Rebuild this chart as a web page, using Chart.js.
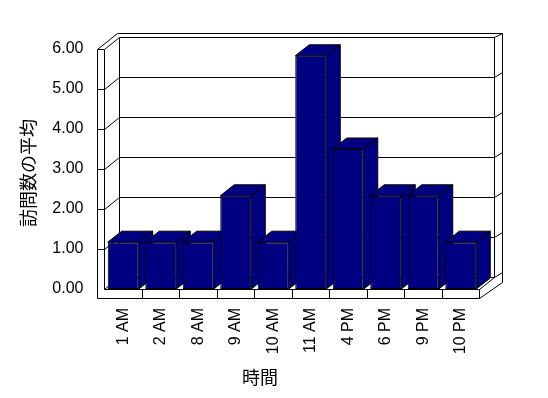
<!DOCTYPE html>
<html>
<head>
<meta charset="utf-8">
<script src="https://cdn.jsdelivr.net/npm/chart.js"></script>
<style>
html, body { margin: 0; padding: 0; background: #fff; }
</style>
</head>
<body>
<canvas id="chart" width="548" height="398"></canvas>
<script>
var hours = ["1 AM", "2 AM", "8 AM", "9 AM", "10 AM", "11 AM", "4 PM", "6 PM", "9 PM", "10 PM"];
var avgVisits = [1.17, 1.17, 1.17, 2.33, 1.17, 5.83, 3.5, 2.33, 2.33, 1.17];
var yMax = 6;
var xTitle = "時間";
var yTitle = "訪問数の平均";

var navy = "#000080";
// oblique depth of the walls and of the bars
var wallDx = 15, wallDy = -12;
var barDx = 14, barDy = -11;
var wallThick = 7.5, floorThick = 9;

function px(v) { return Math.floor(v) + 0.5; }

function path(ctx, pts, close) {
  ctx.beginPath();
  ctx.moveTo(pts[0][0], pts[0][1]);
  for (var i = 1; i < pts.length; i++) ctx.lineTo(pts[i][0], pts[i][1]);
  if (close) ctx.closePath();
}

function seg(ctx, x1, y1, x2, y2) {
  ctx.beginPath();
  ctx.moveTo(px(x1), px(y1));
  ctx.lineTo(px(x2), px(y2));
  ctx.stroke();
}

var box3d = {
  id: "box3d",
  beforeDatasetsDraw: function (chart) {
    var ctx = chart.ctx, a = chart.chartArea;
    var xs = chart.scales.x, ys = chart.scales.y;
    var L = a.left, R = a.right, T = ys.getPixelForValue(yMax), B = ys.getPixelForValue(0);
    var oL = L - wallThick, oR = R + wallDx + wallThick;
    var bL = L + wallDx, bR = R + wallDx, bT = T + wallDy, bB = B + wallDy;

    ctx.save();
    ctx.strokeStyle = "#000";
    ctx.lineWidth = 1;
    ctx.fillStyle = "#fff";

    // outer outline
    path(ctx, [[px(oL), px(T)], [px(oL + 20), px(bT - 4)], [px(oR), px(bT - 4)],
      [px(oR), px(bB + 5)], [px(R), px(B + floorThick)], [px(oL), px(B + floorThick)]], true);
    ctx.fill();
    ctx.stroke();

    // left wall front face and top
    seg(ctx, oL, T, L, T);
    seg(ctx, L, T, L, B);
    seg(ctx, L, T, bL, bT);
    // back wall
    path(ctx, [[px(bL), px(bT)], [px(bR), px(bT)], [px(bR), px(bB)], [px(bL), px(bB)]], true);
    ctx.stroke();
    seg(ctx, bR, bT, oR, bT - 4);
    seg(ctx, bR, bB, oR, bB - 5);
    // floor
    seg(ctx, L, B, R, B);
    seg(ctx, L, B, bL, bB);
    seg(ctx, R, B, bR, bB);
    seg(ctx, R, B, R, B + floorThick);

    // gridlines
    for (var v = 1; v < yMax; v++) {
      var yv = ys.getPixelForValue(v);
      seg(ctx, oL, yv, L, yv);
      seg(ctx, L, yv, bL, yv + wallDy);
      seg(ctx, bL, yv + wallDy, bR, yv + wallDy);
      seg(ctx, bR, yv + wallDy, oR, yv + wallDy - 5);
    }
    // category ticks on floor front
    for (var i = 1; i < hours.length; i++) {
      var xb = xs.getPixelForValue(i - 0.5);
      seg(ctx, xb, B, xb, B + floorThick);
    }

    // bar tops and sides, left to right
    var meta = chart.getDatasetMeta(0);
    ctx.fillStyle = navy;
    meta.data.forEach(function (el) {
      var p = el.getProps(["x", "y", "base", "width"], true);
      var l = p.x - p.width / 2, r = p.x + p.width / 2;
      path(ctx, [[l, p.y], [l + barDx, p.y + barDy], [r + barDx, p.y + barDy], [r, p.y]], true);
      ctx.fill(); ctx.stroke();
      path(ctx, [[r, p.y], [r + barDx, p.y + barDy], [r + barDx, p.base + barDy], [r, p.base]], true);
      ctx.fill(); ctx.stroke();
    });
    ctx.restore();
  },
  afterDraw: function (chart) {
    var ctx = chart.ctx;
    ctx.save();
    ctx.fillStyle = "#000";
    ctx.font = "18px 'Noto Sans CJK JP'";
    ctx.textAlign = "center";
    ctx.textBaseline = "middle";
    ctx.fillText(xTitle, 260, 377);
    ctx.translate(28, 173);
    ctx.rotate(-Math.PI / 2);
    ctx.fillText(yTitle, 0, 0);
    ctx.restore();
  }
};

Chart.defaults.font.family = "'Liberation Sans', Arial, sans-serif";
Chart.defaults.font.size = 16;
Chart.defaults.color = "#000";

new Chart(document.getElementById("chart"), {
  type: "bar",
  data: {
    labels: hours,
    datasets: [{
      label: yTitle,
      data: avgVisits,
      backgroundColor: navy,
      borderColor: "#000",
      borderWidth: 1,
      borderSkipped: false,
      categoryPercentage: 1,
      barPercentage: 0.827
    }]
  },
  options: {
    responsive: false,
    animation: false,
    layout: { padding: { left: 0, top: 49, right: 68.5, bottom: 0 } },
    plugins: { legend: { display: false }, tooltip: { enabled: false } },
    scales: {
      x: {
        grid: { display: false, drawTicks: false },
        border: { display: false },
        ticks: { autoSkip: false, minRotation: 90, maxRotation: 90, padding: 19 },
        afterFit: function (s) { s.height = 109; }
      },
      y: {
        min: 0,
        max: yMax,
        grid: { display: false, drawTicks: false },
        border: { display: false },
        ticks: {
          stepSize: 1,
          padding: 21,
          callback: function (v) { return v.toFixed(2); }
        },
        afterFit: function (s) { s.width = 104.5; }
      }
    }
  },
  plugins: [box3d]
});
</script>
</body>
</html>
